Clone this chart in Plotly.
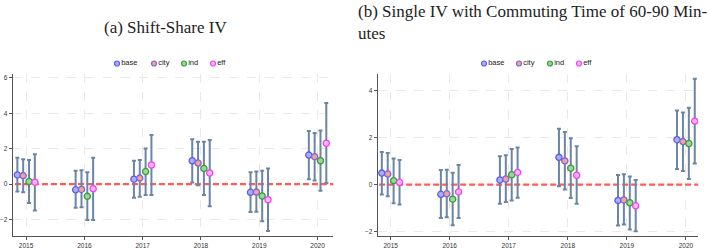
import plotly.graph_objects as go

years = [2015, 2016, 2017, 2018, 2019, 2020]
series = ["base", "city", "ind", "eff"]
offsets = [-0.15, -0.05, 0.05, 0.15]

# Panel (a): Shift-Share IV  (estimate, lower CI, upper CI)
a_base = [0.52, -0.32, 0.28, 1.32, -0.46, 1.64]
a_base_lo = [-0.41, -1.34, -0.77, 0.09, -1.58, 0.28]
a_base_hi = [1.49, 0.76, 1.32, 2.53, 0.67, 3.00]
a_city = [0.48, -0.30, 0.34, 1.19, -0.45, 1.55]
a_city_lo = [-0.46, -1.30, -0.71, -0.06, -1.56, 0.21]
a_city_hi = [1.41, 0.78, 1.36, 2.40, 0.71, 2.89]
a_ind = [0.15, -0.69, 0.71, 0.89, -0.67, 1.32]
a_ind_lo = [-1.06, -2.03, -0.61, -0.61, -2.10, -0.37]
a_ind_hi = [1.36, 0.67, 2.01, 2.40, 0.76, 3.03]
a_eff = [0.11, -0.26, 1.08, 0.63, -0.88, 2.31]
a_eff_lo = [-1.49, -2.03, -0.61, -1.25, -2.64, 0.06]
a_eff_hi = [1.69, 1.49, 2.77, 2.49, 0.89, 4.58]

# Panel (b): Single IV with commuting time of 60-90 minutes
b_base = [0.49, -0.41, 0.20, 1.16, -0.67, 1.91]
b_base_lo = [-0.42, -1.42, -0.81, -0.07, -1.74, 0.66]
b_base_hi = [1.39, 0.62, 1.21, 2.38, 0.41, 3.15]
b_city = [0.45, -0.39, 0.24, 1.01, -0.65, 1.83]
b_city_lo = [-0.49, -1.39, -0.74, -0.21, -1.70, 0.58]
b_city_hi = [1.34, 0.63, 1.25, 2.24, 0.44, 3.07]
b_ind = [0.17, -0.62, 0.42, 0.70, -0.77, 1.75]
b_ind_lo = [-0.79, -1.73, -0.67, -0.57, -1.91, 0.24]
b_ind_hi = [1.11, 0.51, 1.51, 1.97, 0.35, 3.27]
b_eff = [0.10, -0.31, 0.52, 0.40, -0.90, 2.70]
b_eff_lo = [-0.84, -1.42, -0.56, -0.81, -1.98, 0.90]
b_eff_hi = [1.05, 0.83, 1.58, 1.63, 0.20, 4.50]

a_ticks = [-2, 0, 2, 4, 6]
b_ticks = [-2, 0, 2, 4]

title_a = "(a) Shift-Share IV"
title_b = "(b) Single IV with Commuting Time of 60-90 Min-<br>utes"

line_colors = ["#5a5af2", "#7a66dc", "#3c9a3c", "#f040f0"]
fill_colors = ["#a9aeff", "#f3a48f", "#9bd59b", "#ffb6ff"]
err_color = "#6a86a3"

panels = [
    ("x", "y", [(a_base, a_base_lo, a_base_hi), (a_city, a_city_lo, a_city_hi),
                (a_ind, a_ind_lo, a_ind_hi), (a_eff, a_eff_lo, a_eff_hi)]),
    ("x2", "y2", [(b_base, b_base_lo, b_base_hi), (b_city, b_city_lo, b_city_hi),
                  (b_ind, b_ind_lo, b_ind_hi), (b_eff, b_eff_lo, b_eff_hi)]),
]

fig = go.Figure()

# zero reference lines
for xa, ya, _ in panels:
    fig.add_trace(go.Scatter(
        x=[2014.5, 2020.5], y=[0, 0], xaxis=xa, yaxis=ya, mode="lines",
        line=dict(color="#ff5b5b", width=2.4, dash="6px,3px"),
        showlegend=False, hoverinfo="skip"))

for xa, ya, data in panels:
    for i, (est, lo, hi) in enumerate(data):
        fig.add_trace(go.Scatter(
            x=[yr + offsets[i] for yr in years], y=est, xaxis=xa, yaxis=ya,
            mode="markers", name=series[i], showlegend=False,
            marker=dict(size=6.2, color=fill_colors[i],
                        line=dict(color=line_colors[i], width=1.3)),
            error_y=dict(type="data", symmetric=False,
                         array=[h - e for h, e in zip(hi, est)],
                         arrayminus=[e - l for e, l in zip(est, lo)],
                         color=err_color, thickness=2, width=2),
        ))

# manual compact legends (overlay pixel-space axis)
leg_x_a = [117, 154, 184, 213]
leg_x_b = [484, 519, 550, 579]
for lx in (leg_x_a, leg_x_b):
    for i in range(4):
        fig.add_trace(go.Scatter(
            x=[lx[i]], y=[64], xaxis="x3", yaxis="y3", mode="markers+text",
            text=[series[i]], textposition="middle right",
            textfont=dict(family="Liberation Sans, Arial", size=7.5, color="#222"),
            marker=dict(size=5, color=fill_colors[i],
                        line=dict(color=line_colors[i], width=1.2)),
            showlegend=False, hoverinfo="skip", cliponaxis=False))

axis_common = dict(
    showline=True, linecolor="#555", linewidth=1,
    ticks="outside", ticklen=3, tickcolor="#555", tickwidth=1,
    showgrid=True, gridcolor="#e9e9e9", griddash="dash", gridwidth=1,
    zeroline=False, tickfont=dict(family="Liberation Sans, Arial", size=6.5, color="#333"),
)

fig.update_layout(
    width=709, height=249, margin=dict(l=0, r=0, t=0, b=0),
    paper_bgcolor="white", plot_bgcolor="rgba(0,0,0,0)", showlegend=False,
    xaxis=dict(domain=[0.0179, 0.4701], range=[2014.77, 2020.27], tickvals=years,
               anchor="y", **axis_common),
    yaxis=dict(domain=[0.043, 0.699], range=[-2.95, 6.2], tickvals=a_ticks,
               anchor="x", **axis_common),
    xaxis2=dict(domain=[0.5327, 0.9849], range=[2014.78, 2020.21], tickvals=years,
                anchor="y2", **axis_common),
    yaxis2=dict(domain=[0.043, 0.7], range=[-2.2, 4.7], tickvals=b_ticks,
                anchor="x2", **axis_common),
    xaxis3=dict(domain=[0, 1], range=[0, 709], visible=False, fixedrange=True, anchor="y3"),
    yaxis3=dict(domain=[0, 1], range=[249, 0], visible=False, fixedrange=True, anchor="x3"),
    annotations=[
        dict(text=title_a, x=165 / 709, y=1 - 28 / 249, xref="paper", yref="paper",
             xanchor="center", yanchor="middle", showarrow=False,
             font=dict(family="Liberation Serif, DejaVu Serif, serif", size=17, color="#222")),
        dict(text=title_b, x=356 / 709, y=1.0, xref="paper", yref="paper",
             xanchor="left", yanchor="top", align="left", showarrow=False,
             font=dict(family="Liberation Serif, DejaVu Serif, serif", size=17, color="#222")),
    ],
)

fig.write_html("out.html")
